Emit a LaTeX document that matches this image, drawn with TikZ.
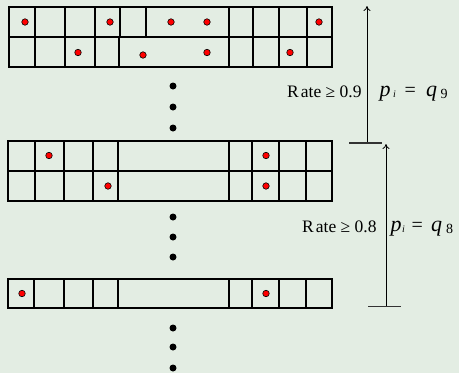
\documentclass[tikz,border=0pt]{standalone}
\usepackage{fontspec}
\setmainfont{Liberation Serif}
\usetikzlibrary{arrows.meta}
\definecolor{bgc}{HTML}{E3EDE3}
\begin{document}
\begin{tikzpicture}[x=1pt,y=-1pt,
  cell/.style={draw=black,line width=1.1pt},
  rdot/.style={circle,fill=red,draw=black,line width=0.6pt,inner sep=0pt,minimum size=6.5pt},
  bdot/.style={circle,fill=black,inner sep=0pt,minimum size=7pt},
  rate/.style={anchor=base west,inner sep=0pt,font=\fontsize{17.5}{20}\selectfont},
  eqn/.style={anchor=base west,inner sep=0pt,font=\fontsize{22}{24}\selectfont\itshape},
  sub/.style={anchor=base west,inner sep=0pt,font=\fontsize{10}{12}\selectfont\itshape},
  subn/.style={anchor=base west,inner sep=0pt,font=\fontsize{14}{16}\selectfont},
  rarrow/.style={line width=0.8pt,-{To[length=5pt,width=7pt]}},
  tick/.style={line width=1.2pt,draw=black!80}]
\fill[bgc] (0,0) rectangle (459,373);
\useasboundingbox (0,0) rectangle (459,373);
% rows
\draw[cell] (9,7) rectangle (332,37);
\foreach \x in {35,65,95,120,146,229,253,279,307} \draw[cell] (\x,7)--(\x,37);
\draw[cell] (9,37) rectangle (332,67);
\foreach \x in {35,65,95,119,229,253,279,307} \draw[cell] (\x,37)--(\x,67);
\draw[cell] (8,141) rectangle (332,171);
\foreach \x in {35,64,93,118,229,252,279,306} \draw[cell] (\x,141)--(\x,171);
\draw[cell] (8,171) rectangle (332,201);
\foreach \x in {35,64,93,118,229,252,279,306} \draw[cell] (\x,171)--(\x,201);
\draw[cell] (8,279) rectangle (332,308);
\foreach \x in {34,64,93,118,229,252,279,306} \draw[cell] (\x,279)--(\x,308);
% red dots
\foreach \x/\y [count=\i] in {25/22,110/22,171/22,207/22,319/22,78/52.5,143/55,207/52.5,290/52.5,
  49/155.5,266/155.5,108/186,266/186,22/293.5,266/293.5}
  \node[rdot] (r\i) at (\x,\y) {};
% black dots
\foreach \y [count=\i] in {86,107,128,217,237,257,328,347,368}
  \node[bdot] (b\i) at (173,\y) {};
% arrows
\coordinate (a1b) at (367,143);
\coordinate (a1t) at (367,6);
\coordinate (t1l) at (349,143);
\coordinate (t1r) at (382,143);
\draw[rarrow] (a1b) -- (a1t);
\draw[tick] (t1l) -- (t1r);
\coordinate (a2b) at (386,306.5);
\coordinate (a2t) at (386,144);
\coordinate (t2l) at (368,306.5);
\coordinate (t2r) at (401,306.5);
\draw[rarrow] (a2b) -- (a2t);
\draw[tick] (t2l) -- (t2r);
% labels
\node[rate] (l9) at (287,97) {R\hspace{2pt}ate ≥ 0.9};
\node[eqn] (p9) at (379.5,96.5) {p};
\node[sub] (i9) at (393,97) {i};
\node[eqn,font=\fontsize{20}{24}\selectfont] (e9) at (404.5,96.5) {=};
\node[eqn] (q9) at (426,96.5) {q};
\node[subn] (n9) at (440.5,98) {9};
\node[rate] (l8) at (302,232) {R\hspace{2pt}ate ≥ 0.8};
\node[eqn] (p8) at (390.5,231.5) {p};
\node[sub] (i8) at (402,232.5) {i};
\node[eqn,font=\fontsize{20}{24}\selectfont] (e8) at (411.5,231.5) {=};
\node[eqn] (q8) at (431,231.5) {q};
\node[subn] (n8) at (446,233) {8};
\end{tikzpicture}
\end{document}
